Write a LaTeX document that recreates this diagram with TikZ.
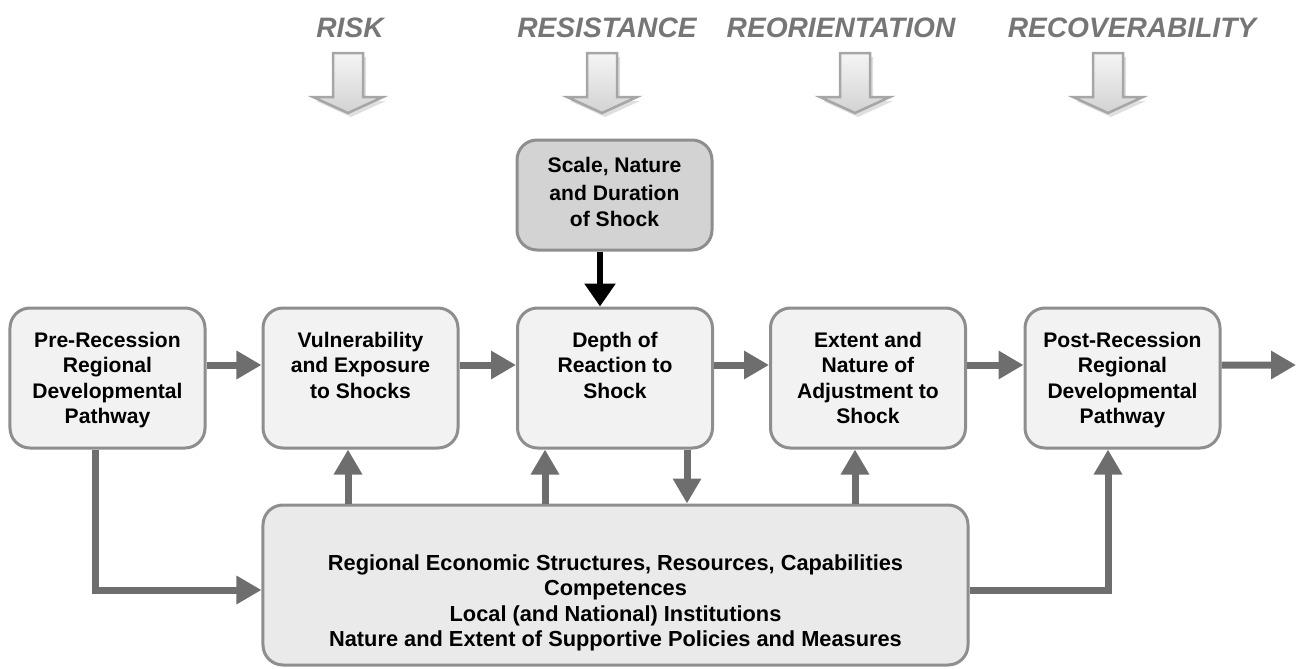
\documentclass[tikz,border=0pt]{standalone}
\usepackage{fontspec}
\setmainfont{Liberation Sans}
\usetikzlibrary{arrows.meta,positioning}
\definecolor{boxline}{HTML}{8E8E8E}
\definecolor{boxfill}{HTML}{F2F2F2}
\definecolor{shockfill}{HTML}{D3D3D3}
\definecolor{basefill}{HTML}{EAEAEA}
\definecolor{flowgray}{HTML}{6E6E6E}
\definecolor{labelgray}{HTML}{767676}
\tikzset{
 stage/.style={draw=boxline,line width=0.6mm,fill=boxfill,rounded corners=4mm,
   minimum width=39mm,minimum height=28mm,inner sep=0pt},
 stagetext/.style={anchor=north,align=center,inner sep=0pt,
   font=\fontsize{12}{14.5}\selectfont\bfseries},
 flow/.style={draw=flowgray,line width=1.4mm,-{Triangle[length=5mm,width=5.4mm]}},
 shockflow/.style={draw=black,line width=1.3mm,-{Triangle[length=4.6mm,width=6mm]}},
 phase/.style={font=\fontsize{16}{18}\selectfont\bfseries\itshape,text=labelgray,inner sep=0pt},
 phasearrow/.style={draw=gray!70,line width=0.5mm,top color=gray!8,bottom color=gray!35,line join=miter}
}
\begin{document}
\begin{tikzpicture}[x=0.2mm,y=-0.2mm]
 \useasboundingbox (0,0) rectangle (1300,669);
 % phases along the top
 \foreach \lx/\ax/\name [count=\i] in {350/348/RISK,607/602/RESISTANCE,841/855/REORIENTATION,1132/1108/RECOVERABILITY}{
   \node[phase] (phase\i) at (\lx,28) {\name};
   \fill[gray!25] ({\ax-12},57)--({\ax+18},57)--({\ax+18},101)--({\ax+38},101)--({\ax+3},117)--({\ax-32},101)--({\ax-12},101)--cycle;
   \path[phasearrow] ({\ax-15},53)--({\ax+15},53)--({\ax+15},97)--({\ax+35},97)--(\ax,113)--({\ax-35},97)--({\ax-15},97)--cycle;
 }
 % shock
 \node[stage,fill=shockfill,minimum height=22mm] (shock) at (614.5,195) {};
 \node[stagetext] (shocktxt) at ([yshift=-3.6mm]shock.north) {Scale, Nature\\[0.6mm]and Duration\\of Shock};
 % stages
 \node[stage] (pre) at (107.5,378) {};
 \node[stage] (vul) at (360.5,378) {};
 \node[stage] (dep) at (615,378) {};
 \node[stage] (ext) at (868,378) {};
 \node[stage] (post) at (1122.5,378) {};
 \node[stagetext] (pretxt) at ([yshift=-5mm]pre.north) {Pre-Recession\\Regional\\Developmental\\Pathway};
 \node[stagetext] (vultxt) at ([yshift=-5mm]vul.north) {Vulnerability\\and Exposure\\to Shocks};
 \node[stagetext] (deptxt) at ([yshift=-5mm]dep.north) {Depth of\\Reaction to\\Shock};
 \node[stagetext] (exttxt) at ([yshift=-5mm]ext.north) {Extent and\\Nature of\\Adjustment to\\Shock};
 \node[stagetext] (posttxt) at ([yshift=-5mm]post.north) {Post-Recession\\Regional\\Developmental\\Pathway};
 % regional base
 \node[stage,fill=basefill,minimum width=141mm,minimum height=32mm] (base) at (615.5,585) {};
 \node[stagetext,anchor=center,font=\fontsize{12.4}{14.5}\selectfont\bfseries] (basetxt) at (615.5,603) {Regional Economic Structures, Resources, Capabilities\\Competences\\Local (and National) Institutions\\Nature and Extent of Supportive Policies and Measures};
 \coordinate (out) at (1296,365);
 % flows
 \draw[shockflow] (shock.south -| 600,0) -- (dep.north -| 600,0);
 \draw[flow] ([yshift=2.6mm]pre.east) -- ([yshift=2.6mm]vul.west);
 \draw[flow] ([yshift=2.6mm]vul.east) -- ([yshift=2.6mm]dep.west);
 \draw[flow] ([yshift=2.6mm]dep.east) -- ([yshift=2.6mm]ext.west);
 \draw[flow] ([yshift=2.6mm]ext.east) -- ([yshift=2.6mm]post.west);
 \draw[flow] ([yshift=2.6mm]post.east) -- (out);
 \draw[flow] (base.north -| 348,0) -- (vul.south -| 348,0);
 \draw[flow] (base.north -| 545,0) -- (dep.south -| 545,0);
 \draw[flow] (dep.south -| 687,0) -- (base.north -| 687,0);
 \draw[flow] (base.north -| 855,0) -- (ext.south -| 855,0);
 \draw[flow] (pre.south -| 95,0) |- (base.west |- 0,590);
 \draw[flow] (base.east |- 0,590) -| (post.south -| 1108,0);
\end{tikzpicture}
\end{document}
